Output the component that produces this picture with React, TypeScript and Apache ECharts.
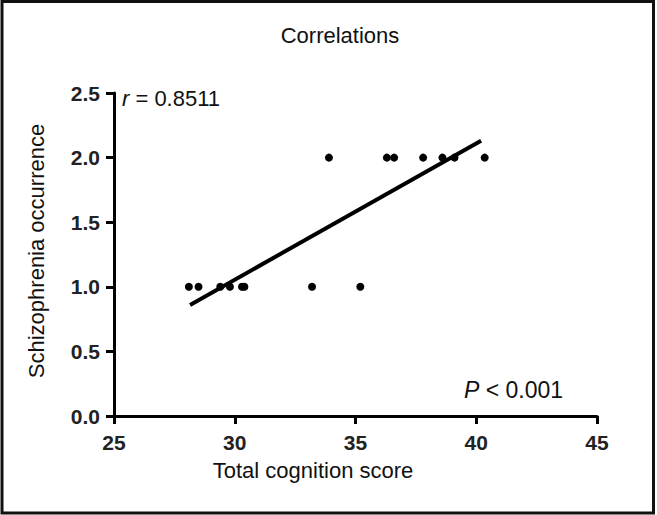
import React, { useEffect, useRef } from "react";
import * as echarts from "echarts";

const titleText = "Correlations";
const xAxisName = "Total cognition score";
const yAxisName = "Schizophrenia occurrence";
const xTicks = [25, 30, 35, 40, 45];
const yTicks = [0, 0.5, 1, 1.5, 2, 2.5];
const scoreX = [28.1, 28.5, 29.4, 29.8, 30.3, 30.4, 33.2, 35.2, 33.9, 36.3, 36.6, 37.8, 38.6, 39.1, 40.35];
const occurrenceY = [1, 1, 1, 1, 1, 1, 1, 1, 2, 2, 2, 2, 2, 2, 2];
const fitX = [28.15, 40.2];
const fitY = [0.86, 2.13];
const rText = "0.8511";
const pText = "0.001";

export default function App() {
  const ref = useRef<HTMLDivElement>(null);
  useEffect(() => {
    if (!ref.current) return;
    const chart = echarts.init(ref.current, null, { renderer: "svg" });
    const font = "'Liberation Sans', Arial, sans-serif";
    chart.setOption({
      animation: false,
      backgroundColor: "#ffffff",
      title: {
        text: titleText,
        left: 335,
        top: 19,
        textAlign: "center",
        textStyle: { fontFamily: font, fontSize: 22, fontWeight: "normal", color: "#111" },
      },
      grid: { left: 114, top: 93, right: 60, bottom: 99, containLabel: false },
      xAxis: {
        type: "value",
        min: xTicks[0],
        max: xTicks[xTicks.length - 1],
        interval: 5,
        splitLine: { show: false },
        axisLine: { show: true, lineStyle: { color: "#000", width: 3 } },
        axisTick: { show: true, length: 8, lineStyle: { color: "#000", width: 3 } },
        axisLabel: { fontFamily: font, fontSize: 21, fontWeight: "bold", color: "#222", margin: 16 },
      },
      yAxis: {
        type: "value",
        min: yTicks[0],
        max: yTicks[yTicks.length - 1],
        interval: 0.5,
        splitLine: { show: false },
        axisLine: { show: true, lineStyle: { color: "#000", width: 3 } },
        axisTick: { show: true, length: 8, lineStyle: { color: "#000", width: 3 } },
        axisLabel: {
          fontFamily: font,
          fontSize: 21,
          fontWeight: "bold",
          color: "#222",
          margin: 14,
          formatter: (v: number) => v.toFixed(1),
        },
      },
      series: [
        {
          type: "line",
          data: fitX.map((x, i) => [x, fitY[i]]),
          symbol: "none",
          lineStyle: { color: "#000", width: 4 },
          z: 2,
        },
        {
          type: "scatter",
          data: scoreX.map((x, i) => [x, occurrenceY[i]]),
          symbol: "circle",
          symbolSize: 8,
          itemStyle: { color: "#000", opacity: 1 },
          z: 3,
        },
      ],
      graphic: [
        {
          type: "rect",
          shape: { x: 2, y: 1.5, width: 651.5, height: 511.5 },
          style: { fill: "none", stroke: "#111", lineWidth: 3 },
          silent: true,
        },
        {
          type: "text",
          x: 313,
          y: 470,
          style: {
            text: xAxisName,
            fontFamily: font,
            fontSize: 22,
            fill: "#111",
            align: "center",
            verticalAlign: "middle",
          },
        },
        {
          type: "text",
          x: 36,
          y: 251,
          rotation: Math.PI / 2,
          style: {
            text: yAxisName,
            fontFamily: font,
            fontSize: 22,
            fill: "#111",
            align: "center",
            verticalAlign: "middle",
          },
        },
        {
          type: "text",
          x: 122,
          y: 98,
          style: {
            text: "{i|r} = " + rText,
            fontFamily: font,
            fontSize: 22,
            fill: "#111",
            align: "left",
            verticalAlign: "middle",
            rich: { i: { fontStyle: "italic", fontFamily: font, fontSize: 22, fill: "#111" } },
          },
        },
        {
          type: "text",
          x: 464,
          y: 390,
          style: {
            text: "{i|P} < " + pText,
            fontFamily: font,
            fontSize: 23,
            fill: "#111",
            align: "left",
            verticalAlign: "middle",
            rich: { i: { fontStyle: "italic", fontFamily: font, fontSize: 23, fill: "#111" } },
          },
        },
      ],
    });
    return () => chart.dispose();
  }, []);
  return (
    <div
      ref={ref}
      style={{ position: "fixed", left: 0, top: 0, width: 657, height: 515 }}
    />
  );
}
